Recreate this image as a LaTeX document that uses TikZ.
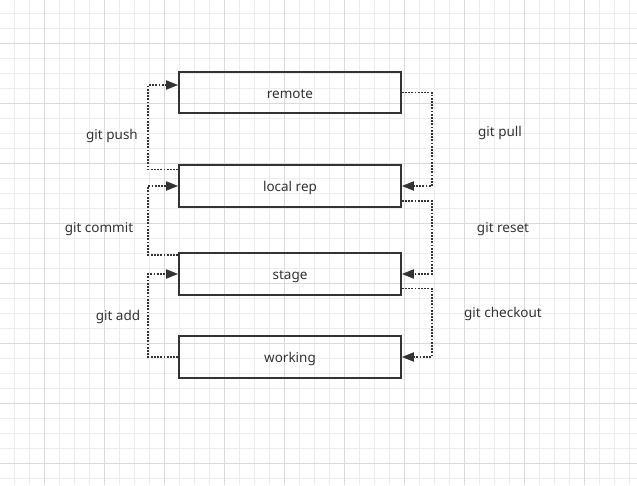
\documentclass[tikz,border=0pt]{standalone}
\usepackage{xcolor}
\usepackage{fontspec}
\setmainfont{Noto Sans}
\usepackage{tikz}
\usetikzlibrary{arrows.meta}
\definecolor{gitink}{RGB}{51,51,51}
\definecolor{gridminor}{RGB}{236,236,236}
\definecolor{gridmajor}{RGB}{218,218,218}
\tikzset{
  gitbox/.style={draw=gitink, line width=1.6pt, minimum width=222pt, minimum height=41.5pt, inner sep=0pt, text=gitink, text height=11pt, text depth=0pt},
  gitflow/.style={draw=gitink, line width=1.8pt, dash pattern=on 1.8pt off 1.4pt, -{Triangle[length=12pt,width=9pt]}},
  gitlabel/.style={text=gitink, inner sep=0pt, yshift=-1.5pt}
}

\begin{document}
\begin{tikzpicture}[x=1pt,y=-1pt,font=\fontsize{13.5}{16}\selectfont]
\useasboundingbox[fill=white] (0,0) rectangle (637,485);
% grid
\foreach \i in {0,...,41} \draw[gridminor, line width=1pt] ({14.3+15*\i},0) -- ++(0,485);
\foreach \j in {0,...,31} \draw[gridminor, line width=1pt] (0,{13.3+15*\j}) -- ++(637,0);
\foreach \i in {0,...,9} \draw[gridmajor, line width=1pt] ({44.3+60*\i},0) -- ++(0,485);
\foreach \j in {0,...,7} \draw[gridmajor, line width=1pt] (0,{43.3+60*\j}) -- ++(637,0);
% boxes
\node[gitbox] (remote) at (290,92.5) {remote};
\node[gitbox] (local) at (290,186) {local rep};
\node[gitbox] (stage) at (290,274) {stage};
\node[gitbox] (working) at (290,357) {working};
% left side
\draw[gitflow] ([yshift=-5pt]local.north west) -- ++(-30,0) |- ([yshift=7.5pt]remote.west);
\draw[gitflow] ([yshift=-2.5pt]stage.north west) -- ++(-30,0) |- (local.west);
\draw[gitflow] (working.west) -- ++(-30,0) |- (stage.west);
% right side
\draw[gitflow] (remote.east) -- ++(30,0) |- (local.east);
\draw[gitflow] ([yshift=6.5pt]local.south east) -- ++(30,0) |- (stage.east);
\draw[gitflow] ([yshift=7pt]stage.south east) -- ++(30,0) |- (working.east);
% labels
\node[gitlabel] (push) at (112,134) {git push};
\node[gitlabel] (commit) at (99,228) {git commit};
\node[gitlabel] (add) at (118,315) {git add};
\node[gitlabel] (pull) at (500,131) {git pull};
\node[gitlabel] (reset) at (503,228) {git reset};
\node[gitlabel] (checkout) at (503,312) {git checkout};
\end{tikzpicture}
\end{document}
